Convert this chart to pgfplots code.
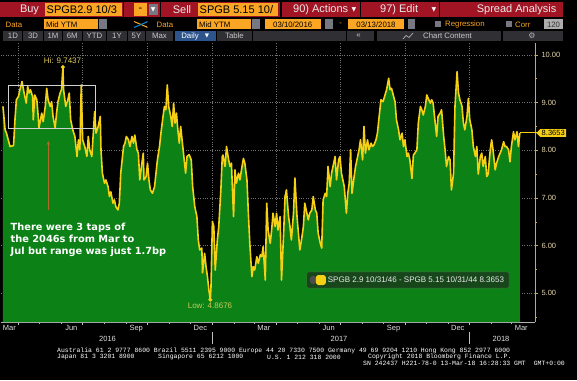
\documentclass[border=0pt]{standalone}
\usepackage{pgfplots}
\pgfplotsset{compat=1.18}
\usepackage{pgfplotstable}
\usepackage{fontspec}
\setmainfont{Liberation Sans}
\newfontfamily\dejavu{DejaVu Sans}
\newfontfamily\monofont{Liberation Mono}
\usetikzlibrary{arrows.meta,shapes.symbols}

\definecolor{bbgreen}{RGB}{12,130,22}
\definecolor{bbyellow}{RGB}{245,208,20}
\definecolor{bbgold}{RGB}{205,175,60}
\definecolor{ticklab}{RGB}{228,214,170}
\definecolor{bbred}{RGB}{160,20,36}
\definecolor{bborange}{RGB}{250,165,35}
\definecolor{legfill}{RGB}{22,70,26}
\definecolor{legdraw}{RGB}{70,115,70}
\definecolor{cellgray}{RGB}{48,48,52}
\definecolor{dailyblue}{RGB}{45,85,140}
\definecolor{arrowbrown}{RGB}{175,105,40}
\definecolor{hitext}{RGB}{225,205,100}
\definecolor{lowtext}{RGB}{205,200,90}
\definecolor{ddgray}{RGB}{120,120,130}

% days since 10 Mar 2016, spread (bp)
\pgfplotstableread{
d v
0 8.92
3 8.43
5 8.36
10 8.08
15 8.10
17 8.64
19 9.06
22 9.13
24 9.27
27 9.44
30 9.20
33 8.99
35 9.34
37 9.20
39 9.27
42 9.13
43 8.64
45 9.16
48 9.06
50 8.71
51 8.47
55 8.78
57 8.60
60 8.92
62 9.30
64 9.06
67 8.92
69 9.02
71 8.71
74 8.47
76 8.78
78 9.02
81 9.20
83 9.27
85 9.7437
86 9.27
89 8.92
92 9.06
94 9.20
96 8.64
99 8.43
102 8.29
105 7.87
107 8.22
109 8.01
111 9.37
113 8.22
116 8.08
119 7.87
121 8.29
123 8.01
126 7.87
130 8.81
132 8.36
135 8.50
138 8.71
139 8.01
141 7.52
144 7.31
146 7.38
149 7.24
151 7.03
153 7.13
156 6.89
158 6.96
160 6.82
163 6.75
165 6.89
167 7.52
171 8.08
173 8.15
175 8.29
178 8.22
180 8.08
183 8.29
185 8.15
187 8.32
190 8.01
192 7.94
194 7.38
197 7.73
199 7.94
200 7.38
203 7.45
205 7.73
207 7.38
209 7.17
212 7.10
215 7.24
217 7.52
219 7.80
222 8.08
224 8.36
227 8.71
229 8.92
231 8.85
233 9.37
235 8.92
238 8.71
240 8.50
242 8.99
244 8.57
246 8.78
248 8.43
250 8.15
252 8.50
254 8.22
256 7.94
259 7.52
261 7.87
264 7.91
267 7.80
269 7.24
272 6.82
275 6.61
277 6.12
279 5.91
282 5.95
283 5.43
286 5.84
288 5.56
290 5.35
292 5.07
294 4.8676
295 5.14
297 6.51
299 6.40
301 5.49
304 6.12
306 6.40
309 7.17
311 7.87
312 7.90
315 7.66
317 8.08
320 7.80
322 7.66
324 7.73
327 6.61
329 7.59
331 7.31
334 7.52
336 7.38
339 7.66
341 7.83
343 7.73
346 7.38
348 6.68
350 6.06
353 5.35
355 5.56
357 5.49
360 5.77
362 5.63
365 5.81
367 5.77
369 5.98
372 5.28
374 6.89
376 6.33
379 6.05
381 6.33
383 6.68
386 6.40
388 6.68
390 6.33
393 6.61
395 5.28
398 6.26
400 7.03
402 7.17
405 6.61
407 6.40
409 6.12
412 6.68
414 7.42
417 6.61
419 6.26
421 5.91
424 6.19
426 6.40
428 6.89
431 6.68
433 6.54
435 6.68
438 6.75
440 7.03
443 6.75
445 6.68
447 6.26
450 6.05
452 5.95
454 6.96
457 7.10
459 7.03
461 7.66
464 7.24
466 7.52
469 7.73
471 7.87
473 7.38
476 7.80
478 7.87
480 7.52
484 7.24
487 6.68
489 7.10
491 7.31
493 8.01
495 7.10
498 7.45
500 7.66
503 7.87
505 8.01
507 8.22
510 7.80
512 8.50
514 7.94
517 8.22
519 8.01
522 8.15
524 8.08
526 8.11
529 8.22
531 8.36
533 8.64
536 9.06
539 9.02
544 9.27
547 9.51
549 9.27
551 9.30
554 9.13
556 9.02
558 8.64
561 8.43
563 8.22
566 8.36
568 8.08
570 8.22
573 7.87
575 7.94
577 7.80
580 7.41
582 7.90
584 7.94
587 8.01
589 8.57
592 8.92
594 8.85
596 8.74
599 8.92
601 9.16
603 9.09
606 8.99
608 9.06
610 8.99
613 8.57
615 8.29
617 8.71
620 8.78
622 8.85
625 8.29
627 8.01
629 7.66
632 7.87
634 7.80
636 7.17
639 7.52
641 8.92
644 9.65
646 9.20
648 9.06
651 8.92
653 8.57
655 8.43
658 8.71
660 9.09
662 8.64
665 8.43
667 8.08
670 7.87
672 8.08
674 7.50
677 7.87
679 7.94
681 7.66
684 7.87
686 7.45
688 7.50
691 8.01
693 8.22
695 8.01
698 7.59
700 7.73
703 7.87
705 7.94
707 8.01
710 8.18
712 8.08
714 8.08
717 8.01
719 7.76
721 8.08
724 8.39
726 8.22
729 8.39
731 8.08
733 8.3653
}\spread

\begin{document}
\begin{tikzpicture}[x=1pt,y=1pt]
\useasboundingbox (0,0) rectangle (577,380);
\fill[black] (0,0) rectangle (577,380);
\begin{axis}[
  at={(1pt,58pt)}, anchor=south west, scale only axis,
  width=534pt, height=279pt,
  xmin=-2.8, xmax=754.5, ymin=4.40, ymax=10.25,
  axis x line*=bottom, axis y line*=right,
  x axis line style={draw=white!70!black, line width=0.6pt},
  y axis line style={draw=bbgold, line width=0.8pt},
  tick align=outside, major tick length=3pt, minor tick length=2pt,
  xtick={22,113,205,297,387,478,570,662}, xticklabels={},
  minor xtick={52,83,144,175,236,266,328,356,417,448,509,540,601,631,693,721},
  extra x ticks={9,97,189,280,370,462,554,645,735},
  extra x tick labels={Mar,Jun,Sep,Dec,Mar,Jun,Sep,Dec,Mar},
  extra x tick style={grid=none, major tick length=0pt},
  x tick style={draw=white!75!black, line width=0.6pt},
  xmajorgrids=true, ymajorgrids=true,
  major grid style={dotted, draw=white!45!black, line width=0.6pt},
  ytick={5,6,7,8,9,10}, minor ytick={4.5,5.5,6.5,7.5,8.5,9.5},
  y tick style={draw=bbgold, line width=0.6pt},
  yticklabel style={text=ticklab, font=\fontsize{7.5}{8}\selectfont,
    /pgf/number format/.cd, fixed, fixed zerofill, precision=2},
  xticklabel style={text=white!88!black, font=\fontsize{7.5}{8}\selectfont},
  /pgf/number format/assume math mode=true,
  legend style={at={(0.762,0.1505)}, anchor=center, fill=legfill, draw=legdraw,
    text=white!92!black, font=\fontsize{8}{9}\selectfont, rounded corners=1.5pt,
    inner xsep=3pt, inner ysep=2.5pt},
  legend image code/.code={
    \fill[white!30!black] (-0.1em,-0.3em) rectangle (0.4em,0.3em);
    \fill[bbyellow] (0.5em,-0.42em) rectangle (1.35em,0.42em);},
]
\addplot[draw=none, fill=bbgreen, forget plot] table[x=d,y=v] {\spread} \closedcycle;
\addplot[bbyellow, line width=1.6pt, line join=round] table[x=d,y=v] {\spread};
\addlegendentry{SPGB 2.9 10/31/46 - SPGB 5.15 10/31/44 8.3653}
\addplot[only marks, mark=*, mark size=1.8pt, bbyellow, forget plot] coordinates {(85,9.7437) (294,4.8676)};
\end{axis}

\begin{scope}[shift={(0,380)},yscale=-1]
% annotation box, arrow and text
\draw[white!82!black, line width=0.8pt] (8.3,85) rectangle (95.7,128.3);
\draw[arrowbrown, line width=1pt, -{Stealth[length=4pt,width=3.5pt]}] (48.3,210) -- (48.3,141);
\node[anchor=north west, inner sep=0, align=left, text=white,
  font=\dejavu\bfseries\fontsize{9.8}{12}\selectfont] at (10.5,222.8)
  {There were 3 taps of\\the 2046s from Mar to\\Jul but range was just 1.7bp};
\node[text=hitext, font=\fontsize{8}{9}\selectfont] at (62.5,60.7) {Hi: 9.7437};
\node[text=lowtext, font=\fontsize{8}{9}\selectfont] at (210,306) {Low: 4.8676};
% last value tag
\draw[bbyellow, line width=1pt] (520,133) -- (538,133);
\node[signal, signal to=west, fill=bbyellow, text=black, font=\fontsize{7.5}{8}\selectfont,
  inner xsep=1.5pt, inner ysep=1.3pt, anchor=west] at (536,133) {8.3653};
% years
\node[text=white!88!black, font=\fontsize{7.5}{8}\selectfont] at (107.5,338.5) {2016};
\node[text=white!88!black, font=\fontsize{7.5}{8}\selectfont] at (339,338.5) {2017};
\node[text=white!88!black, font=\fontsize{7.5}{8}\selectfont] at (501,338.5) {2018};
\draw[white!75!black, line width=0.6pt] (212,332) -- (212,344);
\draw[white!75!black, line width=0.6pt] (469,332) -- (469,344);
% footer
\begin{scope}[every node/.style={anchor=west, inner sep=0, text=white, font=\monofont\fontsize{6.45}{7}\selectfont}]
\node at (57,351) {Australia 61 2 9777 8600 Brazil 5511 2395 9000 Europe 44 20 7330 7500 Germany 49 69 9204 1210 Hong Kong 852 2977 6000};
\node at (57,357.3) {Japan 81 3 3201 8900};
\node at (158,357.3) {Singapore 65 6212 1000};
\node at (267,357.3) {U.S. 1 212 318 2000};
\node at (368,357.3) {Copyright 2018 Bloomberg Finance L.P.};
\node at (363,363.3) {SN 242437 H221-78-0 13-Mar-18 16:28:33 GMT};
\node[anchor=east] at (565,363.3) {GMT+0:00};
\end{scope}
% toolbar row 1
\fill[bbred] (0,1.7) rectangle (563,16.7);
\foreach \s in {122.5,159.5,280,359.5,438.5} {\fill[black] (\s,1.7) rectangle (\s+1.5,16.7);}
\fill[bborange] (45,3) rectangle (121.5,15.8);
\fill[bborange] (134.4,3) rectangle (146.6,15.8);
\fill[ddgray] (149,4) rectangle (157.6,14.8);
\fill[bborange] (198,3) rectangle (278,15.8);
\begin{scope}[every node/.style={font=\fontsize{11}{12}\selectfont, inner sep=0}]
\node[text=white!92!black] at (29.5,9.5) {Buy};
\node[anchor=west, text=black] at (46.5,9.5) {SPGB2.9 10/3};
\node[text=black] at (140.5,9.5) {-};
\node[text=white!92!black] at (182,9.5) {Sell};
\node[anchor=west, text=black] at (199.5,9.5) {SPGB 5.15 10/};
\node[anchor=west, text=white!92!black] at (293,9.5) {90) Actions};
\node[anchor=west, text=white!92!black] at (380,9.5) {97) Edit};
\node[anchor=east, text=white!92!black] at (556.5,9.5) {Spread Analysis};
\end{scope}
\node[text=white, font=\dejavu\fontsize{6}{6}\selectfont, inner sep=0] at (153.3,9.7) {▼};
\node[text=white, font=\dejavu\fontsize{6}{6}\selectfont, inner sep=0] at (354,9.7) {▼};
\node[text=white, font=\dejavu\fontsize{6}{6}\selectfont, inner sep=0] at (434,9.7) {▼};
% toolbar row 2
\fill[bborange] (43.5,19.5) rectangle (97.6,29.3);
\fill[ddgray] (99.4,19.5) rectangle (106.8,29.3);
\fill[bborange] (197,19.5) rectangle (250.5,29.3);
\fill[ddgray] (252,19.5) rectangle (259.7,29.3);
\fill[bborange] (265,19.5) rectangle (320.5,29.3);
\fill[ddgray] (325,19.5) rectangle (333,29.3);
\fill[bborange] (348,19.5) rectangle (404,29.3);
\fill[ddgray] (408,19.5) rectangle (415,29.3);
\fill[ddgray] (435,21) rectangle (441,27.5);
\fill[ddgray] (506,21) rectangle (511.5,27.5);
\fill[white!68!black] (544,19.5) rectangle (563,29.3);
\draw[bborange, line width=1pt, -{Stealth[length=2pt]}] (134,21.5) -- (148,27.5);
\draw[cyan!70!blue, line width=1pt, -{Stealth[length=2pt]}] (134,27.5) -- (148,21.5);
\begin{scope}[every node/.style={font=\fontsize{7.8}{8}\selectfont, inner sep=0}]
\node[anchor=west, text=bborange] at (5.5,24.4) {Data};
\node[anchor=west, text=black] at (46,24.4) {Mid YTM};
\node[anchor=west, text=bborange] at (156.5,24.4) {Data};
\node[anchor=west, text=black] at (199,24.4) {Mid YTM};
\node[text=black] at (292.7,24.4) {03/10/2016};
\node[text=bborange] at (340.7,24.4) {-};
\node[text=black] at (376,24.4) {03/13/2018};
\node[anchor=west, text=bborange] at (445,24.4) {Regression};
\node[anchor=west, text=bborange] at (515,24.4) {Corr};
\node[text=black!80] at (553.5,24.4) {120};
\end{scope}
% toolbar row 3
\foreach \a/\b in {3/22,23/43,44/62,63/82,83/106,107/127,128/145,146/173,217/252,253/346,347/374,377/501,503/563}
  {\fill[cellgray] (\a,31) rectangle (\b,40.8);}
\fill[dailyblue] (175,31) rectangle (215.5,40.8);
\begin{scope}[every node/.style={font=\fontsize{7.8}{8}\selectfont, inner sep=0, text=white!78!black}]
\node at (12.9,36) {1D};
\node at (33,36) {3D};
\node at (53,36) {1M};
\node at (72.3,36) {6M};
\node at (94.5,36) {YTD};
\node at (117,36) {1Y};
\node at (136.5,36) {5Y};
\node at (159.5,36) {Max};
\node[text=white] at (190,36) {Daily};
\node at (234.5,36) {Table};
\node at (358.5,36) {«};
\node[anchor=west] at (423,36) {Chart Content};
\end{scope}
\node[text=white, font=\dejavu\fontsize{5.5}{6}\selectfont, inner sep=0] at (207,36) {▼};
\draw[white!70!black, line width=0.7pt] (403,39) -- (406,35.5) -- (409,37.5) -- (413,33);
\node[text=white!70!black, font=\dejavu\fontsize{8}{8}\selectfont, inner sep=0] at (532,36) {⚙};
\end{scope}
\end{tikzpicture}
\end{document}
